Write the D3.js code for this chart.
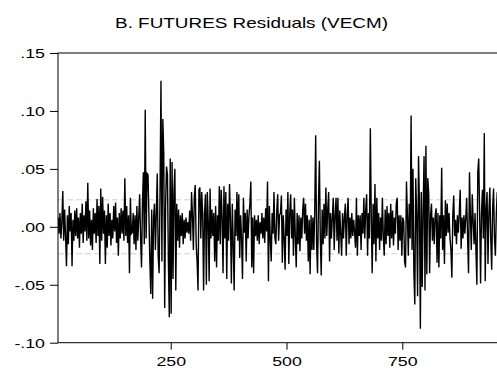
<!DOCTYPE html>
<html>
<head>
<meta charset="utf-8">
<script src="https://cdn.jsdelivr.net/npm/d3@7"></script>
<style>
  html, body { margin: 0; padding: 0; background: #fff; }
  svg { display: block; }
</style>
</head>
<body>
<div id="chart"></div>
<script>
const startObs = 7;
const obsStep = 2;
const resid1 = [.008,-.006,.012,-.010,.004,.031,-.012,.015,-.008,-.034,
  .010,-.015,.018,-.004,.012,-.034,.006,-.012,.014,-.008,
  .016,-.010,.008,-.018,.012,-.006,.020,-.014,.010,-.004,
  .022,-.012,.038,-.010,.014,-.016,.006,-.020,.016,-.006,
  .012,-.014,.024,-.008,.018,-.032,.033,-.012,.026,-.006,
  .014,-.032,.010,-.018,.020,-.008,.012,-.016,.006,-.010,
  .018,-.004,.021,-.014,.008,-.025,.012,-.010,.016,-.006,
  .014,-.012,.042,-.008,.018,-.014,.010,-.040,.025,-.006];
const resid2 = [-.005,.012,-.015,.010,-.020,.018,-.012,.008,.028,-.010,
  -.035,.020,.047,-.015,.101,-.010,.046,.045,.010,-.030,
  -.058,.015,-.062,.008,.020,-.020,.012,.046,-.025,-.040,
  .030,.126,-.030,.093,.064,-.070,.020,.052,.045,-.030,
  -.078,.059,-.075,.056,-.045,.030,.050,-.055,.020,-.012,
  .015,-.018,.010,-.008,.012,-.015,.006,-.010,.008,-.005,
  .004,-.006,.014,-.012,.030,.010,-.020,.026,.036,-.015,
  -.030,-.055,.032,.034,-.010,.030,.012,-.055,.010,.028];
const resid3 = [-.050,.030,.006,-.047,.033,-.010,.015,-.008,.012,-.030,
  .018,-.035,.010,-.012,.035,-.015,.032,.008,-.040,.035,
  -.010,.030,-.045,.020,-.012,.037,.005,-.049,.020,-.015,
  -.055,.015,-.008,.030,-.012,.028,-.027,.010,-.010,-.045,
  .025,-.005,.012,-.030,.015,-.010,.010,.020,.039,-.035,
  .008,-.040,.010,-.008,.006,-.012,.010,-.015,.004,-.006,
  .012,-.010,.008,-.014,.016,-.004,.039,-.047,.018,-.010,
  -.030,.012,-.006,.030,-.010,-.015,.014,.028,-.012,.010];
const resid4 = [.012,.027,-.031,.010,-.010,-.037,.015,-.008,.030,-.032,
  .012,.028,-.010,.015,-.025,.025,-.008,-.035,.012,-.015,
  .010,-.021,.008,-.010,.014,.025,-.006,.020,-.012,.010,
  -.030,.006,-.041,.010,-.020,.008,-.020,.015,.079,-.015,
  -.040,.020,.057,-.010,-.042,.015,-.015,.020,-.010,.034,
  -.008,.015,.030,-.030,.012,-.010,.008,.025,-.020,.010,
  .025,-.012,.025,-.023,.014,-.006,-.025,.012,-.010,.008,
  .020,-.025,.010,.025,-.015,.008,-.010,.012,-.008,.006];
const resid5 = [-.005,-.018,.025,-.025,.010,-.008,.010,-.020,.012,-.006,
  .025,-.010,.015,.028,-.025,.012,-.010,.085,.010,-.040,
  .020,-.015,.037,-.030,.025,-.010,.012,-.020,.008,-.012,
  .025,-.008,-.025,.015,-.015,.018,-.008,.012,-.018,.020,
  -.010,.014,-.016,.008,-.006,.020,.025,-.020,.010,-.012,
  .010,-.025,.008,.005,-.030,-.035,.039,.010,-.025,.020,
  -.010,.096,-.020,.050,-.040,-.067,.042,.010,-.060,.061,
  .020,-.088,.030,-.052,.015,.061,-.055,.070,-.041,.042];
const resid6 = [.029,-.040,.010,.020,-.012,.008,-.015,.010,.016,-.031,
  .012,-.035,.010,-.010,.051,-.020,.010,-.032,.023,-.008,
  .020,-.005,.012,-.010,-.020,-.044,.010,.027,-.008,.006,
  -.015,.010,-.005,.012,.032,-.019,.008,-.010,.010,-.006,
  .008,.025,-.010,-.040,.047,.010,-.020,.028,.005,-.015,
  .012,-.020,-.050,.047,.059,.010,-.049,.012,.032,-.010,
  .081,-.047,.015,.030,-.032,.012,.034,-.010,-.037,.015,
  .033,-.010,-.025,.012,.030];

const bandLevels = [-0.0233, 0.0233];   // light dashed reference lines
const yTicks = [0.15, 0.10, 0.05, 0.00, -0.05, -0.10];
const yTickLabels = [".15", ".10", ".05", ".00", "-.05", "-.10"];
const xTicks = [250, 500, 750];
const title = "B. FUTURES Residuals (VECM)";

const series = resid1.concat(resid2, resid3, resid4, resid5, resid6)
  .map((v, i) => ({ obs: startObs + i * obsStep, v: v }));

const W = 497, H = 372;
const plotLeft = 58, plotTop = 53, plotBottom = 342.7;
const stretch = 1.42;   // text in the original is widened horizontally

const svg = d3.select("#chart").append("svg")
  .attr("width", W).attr("height", H);

const x = d3.scaleLinear().domain([0, 1000]).range([54.9, 518.1]);
const y = d3.scaleLinear().domain([-0.10, 0.15]).range([plotBottom, plotTop]);

svg.append("defs").append("clipPath").attr("id", "plot-clip")
  .append("rect").attr("x", plotLeft).attr("y", plotTop)
  .attr("width", W - plotLeft).attr("height", plotBottom - plotTop);

// dashed reference lines
svg.append("g").selectAll("line").data(bandLevels).join("line")
  .attr("x1", plotLeft).attr("x2", W)
  .attr("y1", d => y(d)).attr("y2", d => y(d))
  .attr("stroke", "#cfcfcf").attr("stroke-width", 1)
  .attr("stroke-dasharray", "6,3");

// series
const line = d3.line().x(d => x(d.obs)).y(d => y(d.v));
svg.append("path").datum(series)
  .attr("clip-path", "url(#plot-clip)")
  .attr("fill", "none").attr("stroke", "#000")
  .attr("stroke-width", 1.4).attr("stroke-linejoin", "miter")
  .attr("d", line);

// frame (right side runs past the window edge)
svg.append("rect")
  .attr("x", plotLeft).attr("y", plotTop)
  .attr("width", 470).attr("height", plotBottom - plotTop)
  .attr("fill", "none").attr("stroke", "#000").attr("stroke-width", 1);

// left axis
const yAxis = svg.append("g").attr("transform", `translate(${plotLeft},0)`)
  .call(d3.axisLeft(y).tickValues(yTicks).tickSize(8)
    .tickFormat((d, i) => yTickLabels[i]));
yAxis.select(".domain").remove();
yAxis.selectAll("line").attr("stroke", "#000");
yAxis.selectAll("text")
  .attr("x", null).attr("dy", "0.36em")
  .attr("transform", `translate(-13,0) scale(${stretch},1)`)
  .style("font-family", "'Liberation Sans', Arial, sans-serif")
  .style("font-size", "12.5px").attr("fill", "#000");

// bottom axis
const xAxis = svg.append("g").attr("transform", `translate(0,${plotBottom})`)
  .call(d3.axisBottom(x).tickValues(xTicks).tickSize(7).tickFormat(d3.format("d")));
xAxis.select(".domain").remove();
xAxis.selectAll("line").attr("stroke", "#000");
xAxis.selectAll("text")
  .attr("y", null).attr("dy", null)
  .attr("transform", `translate(0,23.3) scale(${stretch},1)`)
  .style("font-family", "'Liberation Sans', Arial, sans-serif")
  .style("font-size", "12.5px").attr("fill", "#000");

// title
svg.append("text")
  .attr("transform", `translate(251.5,28.3) scale(1.35,1)`)
  .attr("text-anchor", "middle")
  .style("font-family", "'Liberation Sans', Arial, sans-serif")
  .style("font-size", "14px").attr("fill", "#000")
  .text(title);
</script>
</body>
</html>
